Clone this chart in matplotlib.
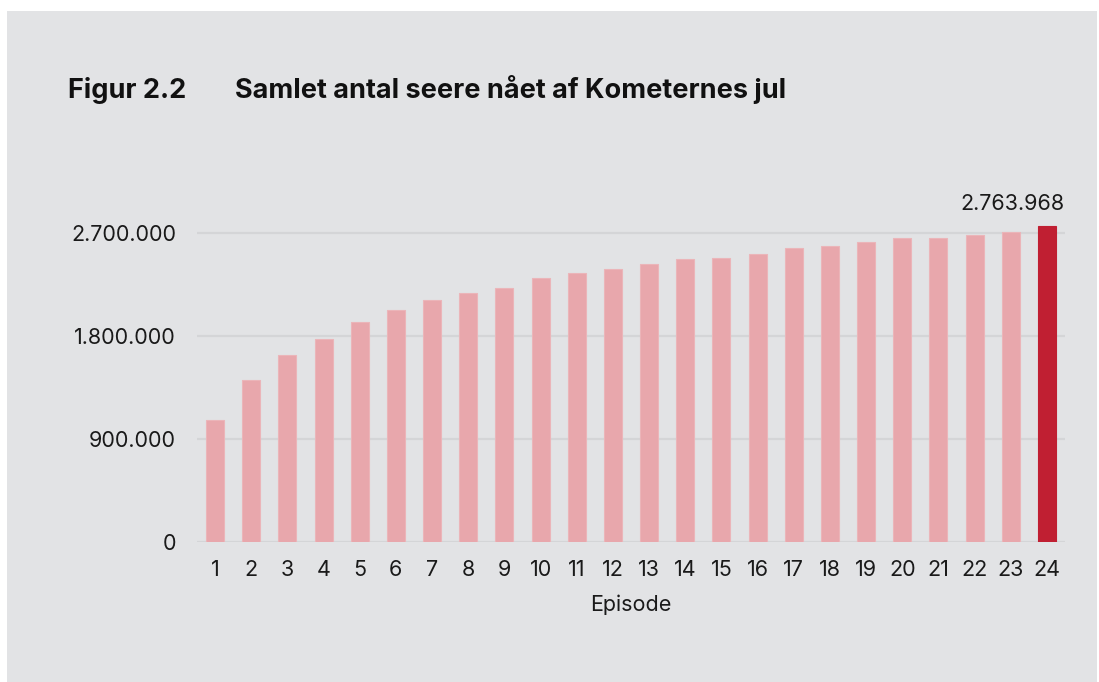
import matplotlib
matplotlib.use("Agg")
import matplotlib.pyplot as plt
from matplotlib.patches import Rectangle
from matplotlib.ticker import FuncFormatter

episodes = list(range(1, 25))
viewers = [1062000, 1413000, 1632000, 1775000, 1926000, 2029000, 2114000, 2175000,
           2222000, 2307000, 2350000, 2391000, 2432000, 2473000, 2482000, 2517000,
           2569000, 2590000, 2622000, 2660000, 2660000, 2683000, 2710000, 2763968]
yticks = [0, 900000, 1800000, 2700000]
title_num = "Figur 2.2"
title_text = "Samlet antal seere nået af Kometernes jul"
xlabel = "Episode"
last_label = "2.763.968"

BG = "#e2e3e5"
GRID = "#d4d5d7"
LIGHT = "#e8a7ac"
DARK = "#c01f32"
TXT = "#1a1a1a"

plt.rcParams['font.family'] = ['Inter', 'DejaVu Sans']

W, H = 1099, 682
fig = plt.figure(figsize=(W / 100, H / 100), dpi=100)
fig.patch.set_facecolor("white")
bgrect = Rectangle((7 / W, 0), (1097 - 7) / W, (H - 11) / H,
                   transform=fig.transFigure, facecolor=BG,
                   edgecolor="none", zorder=-10)
fig.patches.append(bgrect)

ax_left, ax_right = 197 / W, 1065 / W
ax_bottom = (H - 541.5) / H
ymax = 3100000
px_per = 102.7 / 900000
ax_top = (H - (541.5 - ymax * px_per)) / H
ax = fig.add_axes([ax_left, ax_bottom, ax_right - ax_left, ax_top - ax_bottom])
ax.set_facecolor("none")
ax.set_zorder(5)

colors = [LIGHT] * (len(episodes) - 1) + [DARK]
edges = ["#ebb5b9"] * (len(episodes) - 1) + [DARK]
ax.bar(episodes, viewers, width=0.5, color=colors, edgecolor=edges,
       linewidth=0.8, zorder=3)

ax.set_xlim(0.5, 24.5)
ax.set_ylim(0, ymax)
ax.set_yticks(yticks)
ax.yaxis.set_major_formatter(FuncFormatter(lambda v, p: f"{int(v):,}".replace(",", ".")))
ax.set_xticks(episodes)
ax.set_xticklabels([str(e) for e in episodes])
ax.grid(axis="y", color=GRID, linewidth=1.6, zorder=0)
ax.set_axisbelow(True)
for s in ax.spines.values():
    s.set_visible(False)
ax.tick_params(axis="both", length=0, labelsize=15.5, colors=TXT)
ax.tick_params(axis="y", pad=15)
ax.tick_params(axis="x", pad=13.5)
ax.set_xlabel(xlabel, fontsize=15.5, color=TXT, labelpad=10)

ax.text(24.5, 2763968 + 16.5 / px_per, last_label, ha="right", va="baseline",
        fontsize=15.5, color=TXT)

fig.text(68 / W, (H - 98) / H, title_num, fontsize=19.5, fontweight="bold",
         color="#111111", va="baseline", ha="left", zorder=6)
fig.text(235 / W, (H - 98) / H, title_text, fontsize=19.5, fontweight="bold",
         color="#111111", va="baseline", ha="left", zorder=6)

fig.savefig("out.png", dpi=100, facecolor=fig.get_facecolor())
